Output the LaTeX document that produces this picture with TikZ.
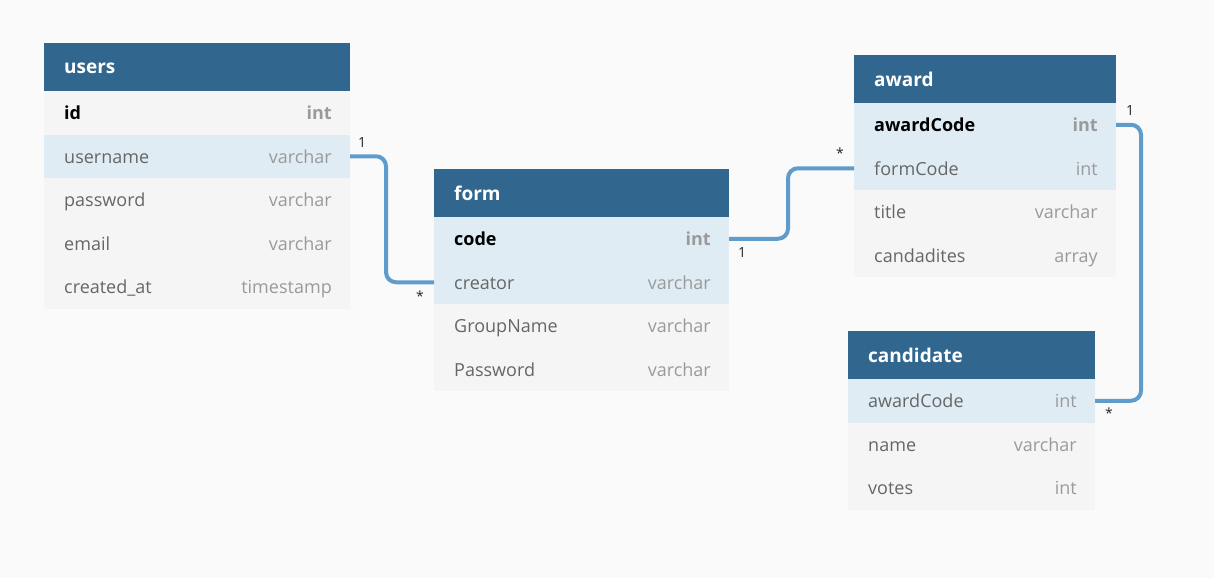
\documentclass[tikz,border=0pt]{standalone}
\usepackage{fontspec}
\setmainfont{Open Sans}
\usetikzlibrary{calc}
\definecolor{canvas}{HTML}{FAFAFA}
\definecolor{hdr}{HTML}{31668F}
\definecolor{rowgray}{HTML}{F5F5F5}
\definecolor{rowblue}{HTML}{DFECF4}
\definecolor{namegray}{HTML}{666666}
\definecolor{typegray}{HTML}{9A9A9A}
\definecolor{relcol}{HTML}{5F9BCB}
\newcommand\bnm{\bfseries\color{black}}
\newcommand\rnm{\color{namegray}}
\newcommand\btp{\bfseries}
\newcommand\rtp{}
\tikzset{
  hdrbox/.style={fill=hdr, draw=none, minimum height=48, inner sep=0, outer sep=0},
  hdrtext/.style={text=white, font=\fontsize{19}{22}\selectfont\bfseries, inner sep=0},
  rowbox/.style={draw=none, minimum height=43.5, inner sep=0, outer sep=0},
  nametext/.style={font=\fontsize{18}{20}\selectfont, inner sep=0},
  typetext/.style={text=typegray, font=\fontsize{18}{20}\selectfont, inner sep=0},
  relline/.style={draw=relcol, line width=4, rounded corners=10},
  card/.style={font=\fontsize{14}{16}\selectfont, text=black!85, inner sep=0},
}
\newcommand\ertable[6]{%
  \node[hdrbox, minimum width=#4, anchor=north west] (#1) at (#2,#3) {};
  \node[hdrtext, anchor=base west] (#1-title) at ($(#2,#3)+(20,31)$) {#5};
  \foreach \n/\t/\bg/\f/\g [count=\i] in {#6} {
    \node[rowbox, fill=\bg, minimum width=#4, anchor=north west] (#1-r\i) at ($(#2,#3)+(0,{48+(\i-1)*43.5})$) {};
    \node[nametext, anchor=base west] (#1-n\i) at ($(#1-r\i.west)+(20,7)$) {\f\n};
    \node[typetext, anchor=base east] (#1-t\i) at ($(#1-r\i.east)+(-18,7)$) {\g\t};
  }%
}
\begin{document}
\begin{tikzpicture}[x=1pt, y=-1pt]
\fill[canvas] (0,0) rectangle (1214,578);
\useasboundingbox (0,0) rectangle (1214,578);

\ertable{users}{44}{43}{306}{users}{id/int/rowgray/\bnm/\btp, username/varchar/rowblue/\rnm/\rtp, password/varchar/rowgray/\rnm/\rtp, email/varchar/rowgray/\rnm/\rtp, created\_at/timestamp/rowgray/\rnm/\rtp}
\ertable{form}{434}{169}{295}{form}{code/int/rowblue/\bnm/\btp, creator/varchar/rowblue/\rnm/\rtp, GroupName/varchar/rowgray/\rnm/\rtp, Password/varchar/rowgray/\rnm/\rtp}
\ertable{award}{854}{55}{262}{award}{awardCode/int/rowblue/\bnm/\btp, formCode/int/rowblue/\rnm/\rtp, title/varchar/rowgray/\rnm/\rtp, candadites/array/rowgray/\rnm/\rtp}
\ertable{cand}{848}{331}{247}{candidate}{awardCode/int/rowblue/\rnm/\rtp, name/varchar/rowgray/\rnm/\rtp, votes/int/rowgray/\rnm/\rtp}

\draw[relline] (users-r2.east) -- ++(36,0) |- (form-r2.west);
\draw[relline] (form-r1.east) -- ++(59,0) |- (award-r2.west);
\draw[relline] (award-r1.east) -- ++(25,0) |- (cand-r1.east);

\node[card] (c1) at (362,143) {1};
\node[card] (c2) at (420,296) {*};
\node[card] (c3) at (742,253) {1};
\node[card] (c4) at (840,153) {*};
\node[card] (c5) at (1130,111) {1};
\node[card] (c6) at (1109,413) {*};
\end{tikzpicture}
\end{document}
